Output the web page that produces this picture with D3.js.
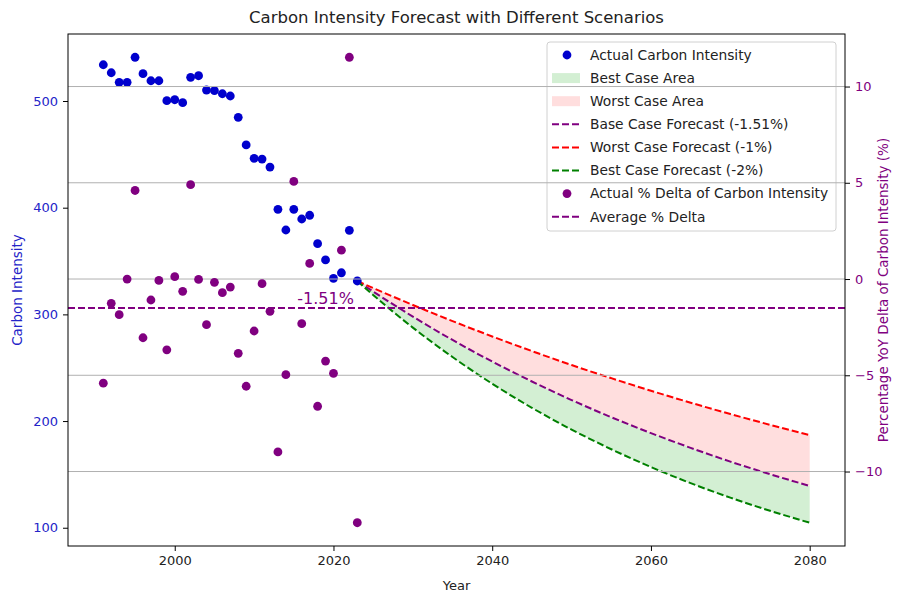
<!DOCTYPE html>
<html>
<head>
<meta charset="utf-8">
<style>
html, body { margin: 0; background: #fff; }
svg { font-family: "DejaVu Sans", sans-serif; }
.grid line { stroke: #b0b0b0; stroke-width: 1; }
.axis path, .axis line { stroke: #000; }
</style>
<script src="https://d3js.org/d3.v7.min.js"></script>
</head>
<body>
<svg width="898" height="596"></svg>
<script>
// observed series
var years = [1991, 1992, 1993, 1994, 1995, 1996, 1997, 1998, 1999, 2000, 2001, 2002, 2003, 2004, 2005, 2006, 2007,
             2008, 2009, 2010, 2011, 2012, 2013, 2014, 2015, 2016, 2017, 2018, 2019, 2020, 2021, 2022, 2023];
var intensity = [534, 526.5, 517.5, 517.5, 541, 525.6, 519, 519, 500.3, 501.2, 498.4, 522.2, 523.7, 510.3, 509.7, 506.8, 504.7,
                 484.7, 458.8, 446.3, 445.6, 438.1, 398.5, 379.1, 398.5, 389.4, 392.9, 366.3, 351, 333.8, 339, 378.8, 331.3];
var delta = [-5.41, -1.26, -1.85, 0.0, 4.6, -3.05, -1.09, -0.07, -3.68, 0.12, -0.64, 4.9, -0.02, -2.37, -0.17, -0.71, -0.42,
             -3.86, -5.57, -2.7, -0.24, -1.68, -8.98, -4.97, 5.07, -2.32, 0.81, -6.61, -4.26, -4.9, 1.5, 11.52, -12.66];
var avgDelta = -1.51;

// forecast series
var fYears = [2023, 2025, 2030, 2035, 2040, 2045, 2050, 2055, 2060, 2065, 2070, 2075, 2080];
var baseCase = [331.3, 321.4, 297.9, 276.0, 255.8, 237.1, 219.7, 203.6, 188.7, 174.9, 162.0, 150.2, 139.2];
var worstCase = [331.3, 324.7, 308.8, 293.7, 279.3, 265.6, 252.5, 240.2, 228.4, 217.2, 206.6, 196.5, 186.8];
var bestCase = [331.3, 318.2, 287.6, 260.0, 235.0, 212.4, 192.0, 173.6, 156.9, 141.8, 128.2, 115.9, 104.7];

var xTicks = [2000, 2020, 2040, 2060, 2080];
var yLeftTicks = [100, 200, 300, 400, 500];
var yRightTicks = [-10, -5, 0, 5, 10];

var BLUE = "#0000cd", PURPLE = "#800080";
var pLeft = 68, pRight = 845, pTop = 34, pBottom = 546;

function padded(lo, hi) {
  var p = (hi - lo) * 0.05;
  return [lo - p, hi + p];
}

var svg = d3.select("svg");

var x = d3.scaleLinear()
    .domain(padded(d3.min(years), d3.max(fYears)))
    .range([pLeft, pRight]);
var yL = d3.scaleLinear()
    .domain(padded(d3.min(bestCase), d3.max(intensity.concat(worstCase))))
    .range([pBottom, pTop]);
var yR = d3.scaleLinear()
    .domain(padded(d3.min(delta), d3.max(delta)))
    .range([pBottom, pTop]);

var fc = fYears.map(function(yr, i) {
  return {year: yr, base: baseCase[i], worst: worstCase[i], best: bestCase[i]};
});
var obs = years.map(function(yr, i) { return {year: yr, v: intensity[i], d: delta[i]}; });

var plot = svg.append("g");

// areas
var worstArea = d3.area().curve(d3.curveMonotoneX)
    .x(d => x(d.year)).y0(d => yL(d.base)).y1(d => yL(d.worst));
var bestArea = d3.area().curve(d3.curveMonotoneX)
    .x(d => x(d.year)).y0(d => yL(d.best)).y1(d => yL(d.base));

plot.append("path").datum(fc).attr("d", bestArea).attr("fill", "#d3efd3");
plot.append("path").datum(fc).attr("d", worstArea).attr("fill", "#ffdede");

function fline(key, color) {
  plot.append("path").datum(fc)
      .attr("d", d3.line().curve(d3.curveMonotoneX).x(d => x(d.year)).y(d => yL(d[key])))
      .attr("fill", "none")
      .attr("stroke", color)
      .attr("stroke-width", 2)
      .attr("stroke-dasharray", "7,3");
}
fline("base", PURPLE);
fline("worst", "#ff0000");
fline("best", "#008000");

plot.append("g").selectAll("circle")
    .data(obs)
    .enter().append("circle")
      .attr("cx", d => x(d.year))
      .attr("cy", d => yL(d.v))
      .attr("r", 4.4)
      .attr("fill", BLUE);

// legend
var legendItems = [
  {label: "Actual Carbon Intensity", type: "dot", color: BLUE},
  {label: "Best Case Area", type: "patch", color: "#d3efd3"},
  {label: "Worst Case Area", type: "patch", color: "#ffdede"},
  {label: "Base Case Forecast (-1.51%)", type: "line", color: PURPLE},
  {label: "Worst Case Forecast (-1%)", type: "line", color: "#ff0000"},
  {label: "Best Case Forecast (-2%)", type: "line", color: "#008000"},
  {label: "Actual % Delta of Carbon Intensity", type: "dot", color: PURPLE},
  {label: "Average % Delta", type: "line", color: PURPLE}
];
var legend = svg.append("g").attr("transform", "translate(547,42)");
legend.append("rect")
    .attr("width", 289).attr("height", 189)
    .attr("rx", 3)
    .attr("fill", "rgba(255,255,255,0.8)")
    .attr("stroke", "#d0d0d0");
var li = legend.selectAll("g.item")
    .data(legendItems)
    .enter().append("g")
      .attr("transform", (d, i) => "translate(0," + (13 + i * 23.1) + ")");
li.each(function(d) {
  var g = d3.select(this);
  if (d.type === "dot") {
    g.append("circle").attr("cx", 20).attr("cy", 0).attr("r", 4.4).attr("fill", d.color);
  } else if (d.type === "patch") {
    g.append("rect").attr("x", 5).attr("y", -5).attr("width", 28).attr("height", 10).attr("fill", d.color);
  } else {
    g.append("line").attr("x1", 5).attr("x2", 33).attr("y1", 0).attr("y2", 0)
        .attr("stroke", d.color).attr("stroke-width", 2).attr("stroke-dasharray", "7,3");
  }
});
li.append("text")
    .attr("x", 43).attr("y", 0).attr("dy", "0.35em")
    .attr("font-size", 13.8).attr("fill", "#222")
    .text(d => d.label);

// secondary axis layer
svg.append("g").attr("class", "grid")
  .selectAll("line")
  .data(yRightTicks)
  .enter().append("line")
    .attr("x1", pLeft).attr("x2", pRight)
    .attr("y1", d => yR(d)).attr("y2", d => yR(d));

svg.append("g").selectAll("circle")
    .data(obs)
    .enter().append("circle")
      .attr("cx", d => x(d.year))
      .attr("cy", d => yR(d.d))
      .attr("r", 4.4)
      .attr("fill", PURPLE);

svg.append("line")
    .attr("x1", pLeft).attr("x2", pRight)
    .attr("y1", yR(avgDelta)).attr("y2", yR(avgDelta))
    .attr("stroke", PURPLE).attr("stroke-width", 2).attr("stroke-dasharray", "7,3");

svg.append("text")
    .attr("x", x(2019)).attr("y", yR(avgDelta + 0.22))
    .attr("text-anchor", "middle")
    .attr("font-size", 16).attr("fill", PURPLE)
    .text(avgDelta.toFixed(2) + "%");

// frame
svg.append("rect")
    .attr("x", pLeft).attr("y", pTop)
    .attr("width", pRight - pLeft).attr("height", pBottom - pTop)
    .attr("fill", "none").attr("stroke", "#000").attr("stroke-width", 1);

// axes
var gx = svg.append("g").attr("class", "axis")
    .attr("transform", "translate(0," + pBottom + ")")
    .call(d3.axisBottom(x).tickValues(xTicks).tickFormat(d3.format("d")).tickSize(5).tickPadding(5));
var gl = svg.append("g").attr("class", "axis")
    .attr("transform", "translate(" + pLeft + ",0)")
    .call(d3.axisLeft(yL).tickValues(yLeftTicks).tickSize(5).tickPadding(5));
var gr = svg.append("g").attr("class", "axis")
    .attr("transform", "translate(" + pRight + ",0)")
    .call(d3.axisRight(yR).tickValues(yRightTicks).tickFormat(d => d < 0 ? "\u2212" + Math.abs(d) : d).tickSize(5).tickPadding(5));
[gx, gl, gr].forEach(function(g) {
  g.select(".domain").remove();
  g.selectAll("text").attr("font-family", "DejaVu Sans").attr("font-size", 13);
});
gx.selectAll("text").attr("fill", "#222");
gl.selectAll("text").attr("fill", "#2424c8");
gr.selectAll("text").attr("fill", PURPLE);

// labels
svg.append("text")
    .attr("x", (pLeft + pRight) / 2).attr("y", 23)
    .attr("text-anchor", "middle").attr("font-size", 16.5).attr("fill", "#222")
    .text("Carbon Intensity Forecast with Different Scenarios");
svg.append("text")
    .attr("x", (pLeft + pRight) / 2).attr("y", 590)
    .attr("text-anchor", "middle").attr("font-size", 13).attr("fill", "#222")
    .text("Year");
svg.append("text")
    .attr("transform", "translate(22," + ((pTop + pBottom) / 2) + ") rotate(-90)")
    .attr("text-anchor", "middle").attr("font-size", 13.5).attr("fill", "#2424c8")
    .text("Carbon Intensity");
svg.append("text")
    .attr("transform", "translate(888," + ((pTop + pBottom) / 2) + ") rotate(-90)")
    .attr("text-anchor", "middle").attr("font-size", 13.5).attr("fill", PURPLE)
    .text("Percentage YoY Delta of Carbon Intensity (%)");
</script>
</body>
</html>
